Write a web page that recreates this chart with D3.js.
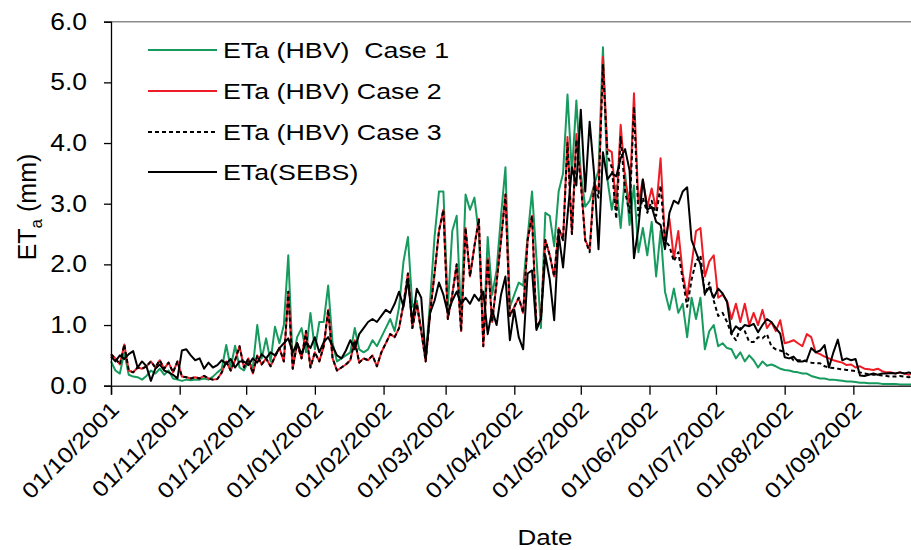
<!DOCTYPE html>
<html>
<head>
<meta charset="utf-8">
<script src="https://cdn.jsdelivr.net/npm/d3@7"></script>
<style>
  html, body { margin: 0; padding: 0; background: #fff; }
  svg { display: block; font-family: "Liberation Sans", Arial, sans-serif; }
</style>
</head>
<body>
<svg id="chart" width="911" height="550"></svg>
<script>
// ---- Data (2-day samples from 01/10/2001) ----
const startDate = Date.UTC(2001, 9, 1);
const stepDays = 2;

const case1 = [
  0.40, 0.25, 0.20, 0.55, 0.18, 0.15, 0.14, 0.10, 0.16, 0.25,
  0.20, 0.28, 0.18, 0.25, 0.12, 0.10, 0.08, 0.10, 0.09, 0.10,
  0.10, 0.12, 0.10, 0.15, 0.22, 0.28, 0.67, 0.30, 0.66, 0.30,
  0.25, 0.40, 0.30, 1.00, 0.45, 0.78, 0.40, 0.97, 0.70, 1.00,
  2.15, 0.40, 0.80, 0.95, 0.55, 1.20, 0.60, 1.05, 1.05, 1.65,
  0.70, 0.40, 0.45, 0.50, 0.55, 0.95, 0.60, 0.55, 0.60, 0.75,
  0.65, 0.80, 0.95, 1.10, 0.90, 1.30, 2.05, 2.45, 1.30, 1.40,
  0.90, 0.45, 1.40, 2.45, 3.20, 3.20, 1.30, 2.55, 2.80, 1.10,
  3.15, 2.90, 3.10, 2.50, 0.75, 2.45, 1.50, 1.90, 2.80, 3.60,
  1.30, 1.50, 1.70, 1.65, 2.45, 3.20, 2.10, 0.95, 2.85, 2.80,
  2.30, 3.20, 3.50, 4.80, 3.50, 4.70, 3.50, 2.95, 3.05, 3.30,
  3.55, 5.58, 3.40, 2.90, 3.30, 2.60, 3.50, 2.65, 3.30, 2.20,
  2.60, 2.15, 2.70, 1.80, 2.55, 1.55, 1.25, 1.60, 1.20, 1.35,
  0.80, 1.45, 1.10, 1.45, 0.60, 0.90, 1.00, 0.65, 0.70, 0.62,
  0.60, 0.45, 0.55, 0.40, 0.50, 0.42, 0.30, 0.40, 0.33, 0.35,
  0.32, 0.28, 0.26, 0.25, 0.23, 0.22, 0.20, 0.20, 0.16, 0.14,
  0.12, 0.12, 0.10, 0.10, 0.09, 0.08, 0.07, 0.07, 0.06, 0.05,
  0.05, 0.04, 0.04, 0.04, 0.03, 0.03, 0.03, 0.03, 0.02, 0.02,
  0.02, 0.02, 0.02
];

const case2 = [
  0.52, 0.45, 0.35, 0.68, 0.25, 0.22, 0.30, 0.28, 0.32, 0.40,
  0.30, 0.42, 0.28, 0.38, 0.22, 0.40, 0.15, 0.14, 0.12, 0.14,
  0.12, 0.16, 0.12, 0.10, 0.11, 0.22, 0.40, 0.25, 0.42, 0.65,
  0.30, 0.45, 0.20, 0.50, 0.35, 0.45, 0.32, 0.48, 0.62, 0.40,
  1.55, 0.28, 0.70, 0.45, 0.90, 0.30, 0.55, 0.40, 0.65, 1.25,
  0.45, 0.25, 0.30, 0.35, 0.42, 0.75, 0.38, 0.45, 0.42, 0.50,
  0.32, 0.55, 0.70, 0.85, 0.80, 0.95, 1.35, 1.85, 0.95, 1.35,
  0.90, 0.40, 1.20, 1.85, 2.55, 2.90, 1.10, 1.50, 2.00, 0.90,
  2.60, 1.80, 2.30, 2.75, 0.65, 2.10, 1.05, 1.70, 2.40, 3.15,
  1.15, 1.30, 1.45, 1.20, 2.40, 2.80, 0.95, 1.10, 2.40, 2.15,
  1.80, 2.60, 2.40, 4.10, 2.50, 4.15, 3.40, 2.40, 2.25, 3.35,
  3.20, 5.42, 3.90, 3.85, 2.90, 4.30, 3.40, 3.00, 4.82, 3.00,
  3.40, 2.95, 3.25, 2.90, 3.75, 2.40, 2.75, 2.10, 2.55, 1.85,
  1.45, 2.00, 2.55, 2.60, 1.80, 2.05, 2.15, 1.45, 1.50, 1.40,
  1.10, 1.35, 1.05, 1.35, 1.00, 1.20, 1.00, 1.25, 0.95, 1.05,
  0.90, 1.08, 0.70, 0.72, 0.75, 0.70, 0.65, 0.85, 0.80, 0.55,
  0.52, 0.48, 0.45, 0.42, 0.40, 0.38, 0.34, 0.35, 0.30, 0.32,
  0.28, 0.27, 0.26, 0.28, 0.24, 0.22, 0.22, 0.20, 0.22, 0.20,
  0.18, 0.22, 0.20
];

const case3 = [
  0.52, 0.45, 0.35, 0.68, 0.25, 0.22, 0.30, 0.28, 0.32, 0.40,
  0.30, 0.42, 0.28, 0.38, 0.22, 0.40, 0.15, 0.14, 0.12, 0.14,
  0.12, 0.16, 0.12, 0.10, 0.11, 0.22, 0.40, 0.25, 0.42, 0.65,
  0.30, 0.45, 0.20, 0.50, 0.35, 0.45, 0.32, 0.48, 0.62, 0.40,
  1.55, 0.28, 0.70, 0.45, 0.90, 0.30, 0.55, 0.40, 0.65, 1.25,
  0.45, 0.25, 0.30, 0.35, 0.42, 0.75, 0.38, 0.45, 0.42, 0.50,
  0.32, 0.55, 0.70, 0.85, 0.80, 0.95, 1.35, 1.85, 0.95, 1.35,
  0.90, 0.40, 1.20, 1.85, 2.55, 2.90, 1.10, 1.50, 2.00, 0.90,
  2.60, 1.80, 2.30, 2.75, 0.65, 2.10, 1.05, 1.70, 2.40, 3.15,
  1.15, 1.30, 1.45, 1.20, 2.40, 2.80, 0.95, 1.10, 2.40, 2.15,
  1.80, 2.60, 2.40, 4.00, 2.50, 4.05, 3.35, 2.40, 2.20, 3.30,
  3.10, 5.30, 3.80, 3.60, 2.75, 4.10, 3.20, 2.85, 4.60, 2.80,
  3.10, 2.85, 3.05, 2.80, 3.30, 2.40, 2.30, 2.05, 2.20, 1.75,
  1.30, 1.75, 2.05, 2.15, 1.50, 1.70, 1.40, 1.15, 1.20, 1.05,
  0.85, 0.75, 0.95, 0.90, 0.72, 0.72, 0.80, 0.78, 0.85, 0.65,
  0.60, 0.58, 0.55, 0.50, 0.42, 0.42, 0.42, 0.40, 0.38, 0.37,
  0.37, 0.32, 0.30, 0.29, 0.28, 0.27, 0.26, 0.25, 0.24, 0.22,
  0.20, 0.19, 0.18, 0.18, 0.17, 0.16, 0.15, 0.15, 0.16, 0.15,
  0.14, 0.15, 0.14
];

const sebs = [
  0.48, 0.40, 0.50, 0.44, 0.52, 0.57, 0.30, 0.40, 0.32, 0.08,
  0.28, 0.35, 0.25, 0.22, 0.18, 0.12, 0.58, 0.60, 0.50, 0.42,
  0.45, 0.28, 0.38, 0.30, 0.34, 0.42, 0.36, 0.44, 0.30, 0.40,
  0.40, 0.34, 0.45, 0.38, 0.52, 0.45, 0.55, 0.50, 0.62, 0.70,
  0.78, 0.55, 0.70, 0.52, 0.72, 0.62, 0.80, 0.55, 0.72, 0.80,
  0.65, 0.50, 0.45, 0.58, 0.75, 0.60, 0.85, 0.95, 1.05, 1.10,
  1.05, 1.15, 1.25, 1.20, 1.35, 1.55, 1.30, 1.75, 1.05, 1.60,
  1.45, 0.45, 1.20, 1.40, 1.70, 1.50, 1.20, 1.40, 1.55, 1.35,
  1.45, 1.35, 1.50, 1.40, 1.55, 0.85, 1.25, 1.00, 1.50, 1.80,
  0.75, 1.25, 0.80, 0.60, 1.85, 1.90, 0.92, 1.10, 2.15, 1.75,
  1.08, 2.50, 1.95, 2.80, 3.60, 3.30, 4.55, 3.20, 4.35, 3.50,
  2.25, 3.85, 3.40, 3.50, 3.45, 3.75, 3.90, 3.55, 2.10, 2.60,
  3.40, 2.90, 2.95, 2.70, 2.65, 2.25, 2.85, 3.05, 3.00, 3.20,
  3.27, 2.40, 2.20, 2.00, 1.52, 1.62, 1.45, 1.60, 1.52, 1.38,
  0.86, 0.98, 0.92, 1.00, 0.98, 1.02, 0.88, 1.00, 1.10, 1.05,
  0.95, 0.86, 0.47, 0.45, 0.48, 0.40, 0.40, 0.42, 0.62, 0.55,
  0.58, 0.67, 0.30, 0.55, 0.76, 0.42, 0.45, 0.42, 0.44, 0.17,
  0.16, 0.18, 0.20, 0.18, 0.20, 0.20, 0.21, 0.20, 0.22, 0.20,
  0.22, 0.20, 0.20
];

const seriesNames = ["ETa (HBV)  Case 1", "ETa (HBV) Case 2", "ETa (HBV) Case 3", "ETa(SEBS)"];
const yTicks = [0, 1, 2, 3, 4, 5, 6];
const xTickLabels = ["01/10/2001","01/11/2001","01/12/2001","01/01/2002","01/02/2002","01/03/2002",
                     "01/04/2002","01/05/2002","01/06/2002","01/07/2002","01/08/2002","01/09/2002"];

(function () {
// ---- Layout ----
const svg = d3.select("#chart");
const plotLeft = 111, plotBottom = 385.7, plotTop = 21.7;
const dayMs = 86400000;
const FONT = "'Liberation Sans', Arial, sans-serif";

const x = d3.scaleUtc()
  .domain([new Date(Date.UTC(2001, 9, 1)), new Date(Date.UTC(2002, 9, 1))])
  .range([plotLeft, plotLeft + 365 * 2.216]);
const y = d3.scaleLinear().domain([0, 6]).range([plotBottom, plotTop]);

const toPts = arr => arr.map((v, i) => ({ date: new Date(startDate + i * stepDays * dayMs), v }));

// plot frame: top border
svg.append("line")
  .attr("x1", plotLeft).attr("x2", 911).attr("y1", plotTop).attr("y2", plotTop)
  .attr("stroke", "#8c8c8c").attr("stroke-width", 1.5);

// lines
const line = d3.line().x(d => x(d.date)).y(d => y(d.v));
const styles = [
  { data: case1, color: "#179a5e", dash: null },
  { data: case2, color: "#ee1c25", dash: null },
  { data: case3, color: "#000000", dash: "4,3" },
  { data: sebs,  color: "#000000", dash: null }
];
const g = svg.append("g");
styles.forEach(s => {
  g.append("path")
    .datum(toPts(s.data))
    .attr("d", line)
    .attr("fill", "none")
    .attr("stroke", s.color)
    .attr("stroke-width", 2)
    .attr("stroke-linejoin", "round")
    .attr("stroke-dasharray", s.dash);
});

// y axis
const yAxis = d3.axisLeft(y).tickValues(yTicks).tickFormat(d3.format(".1f")).tickSizeOuter(0).tickSize(7);
const yg = svg.append("g").attr("transform", `translate(${plotLeft},0)`).call(yAxis);
yg.select(".domain").attr("stroke", "#000").attr("stroke-width", 1.3);
yg.selectAll(".tick line").attr("stroke", "#000").attr("stroke-width", 1.3);
yg.selectAll(".tick text").attr("font-size", 23).attr("fill", "#000")
  .attr("font-family", FONT)
  .attr("x", 0)
  .attr("transform", "translate(-24,0) scale(1.15,1)");

// x axis
const tickDates = xTickLabels.map(s => {
  const [dd, mm, yy] = s.split("/").map(Number);
  return new Date(Date.UTC(yy, mm - 1, dd));
});
const xAxis = d3.axisBottom(x).tickValues(tickDates)
  .tickFormat((d, i) => xTickLabels[i]).tickSizeOuter(0).tickSize(9);
const xg = svg.append("g").attr("transform", `translate(0,${plotBottom})`).call(xAxis);
xg.select(".domain").attr("stroke", "#333").attr("stroke-width", 1.5);
xg.selectAll(".tick line").attr("stroke", "#000").attr("stroke-width", 1.3);
xg.selectAll(".tick text")
  .attr("font-size", 22).attr("fill", "#000")
  .attr("font-family", FONT)
  .attr("text-anchor", "end")
  .attr("dy", null).attr("y", 0)
  .attr("transform", "translate(9,25) rotate(-45) scale(1.15,1)");

// axis titles
svg.append("text")
  .attr("transform", "translate(545,545) scale(1.18,1)")
  .attr("text-anchor", "middle")
  .attr("font-size", 22).text("Date");

const yl = svg.append("text")
  .attr("transform", "translate(36,207) rotate(-90)")
  .attr("text-anchor", "middle")
  .attr("font-size", 25);
yl.append("tspan").text("ET");
yl.append("tspan").attr("font-size", 17).attr("dy", 6).text("a");
yl.append("tspan").attr("dy", -6).text(" (mm)");

// legend
const legY = [50, 91, 132, 172];
styles.forEach((s, i) => {
  svg.append("line")
    .attr("x1", 148).attr("x2", 217).attr("y1", legY[i]).attr("y2", legY[i])
    .attr("stroke", s.color).attr("stroke-width", 2)
    .attr("stroke-dasharray", s.dash);
  svg.append("text")
    .attr("transform", `translate(223,${legY[i]}) scale(1.19,1)`)
    .attr("dy", "0.36em")
    .attr("font-size", 22.5)
    .style("white-space", "pre")
    .text(seriesNames[i]);
});
})();
</script>
</body>
</html>
